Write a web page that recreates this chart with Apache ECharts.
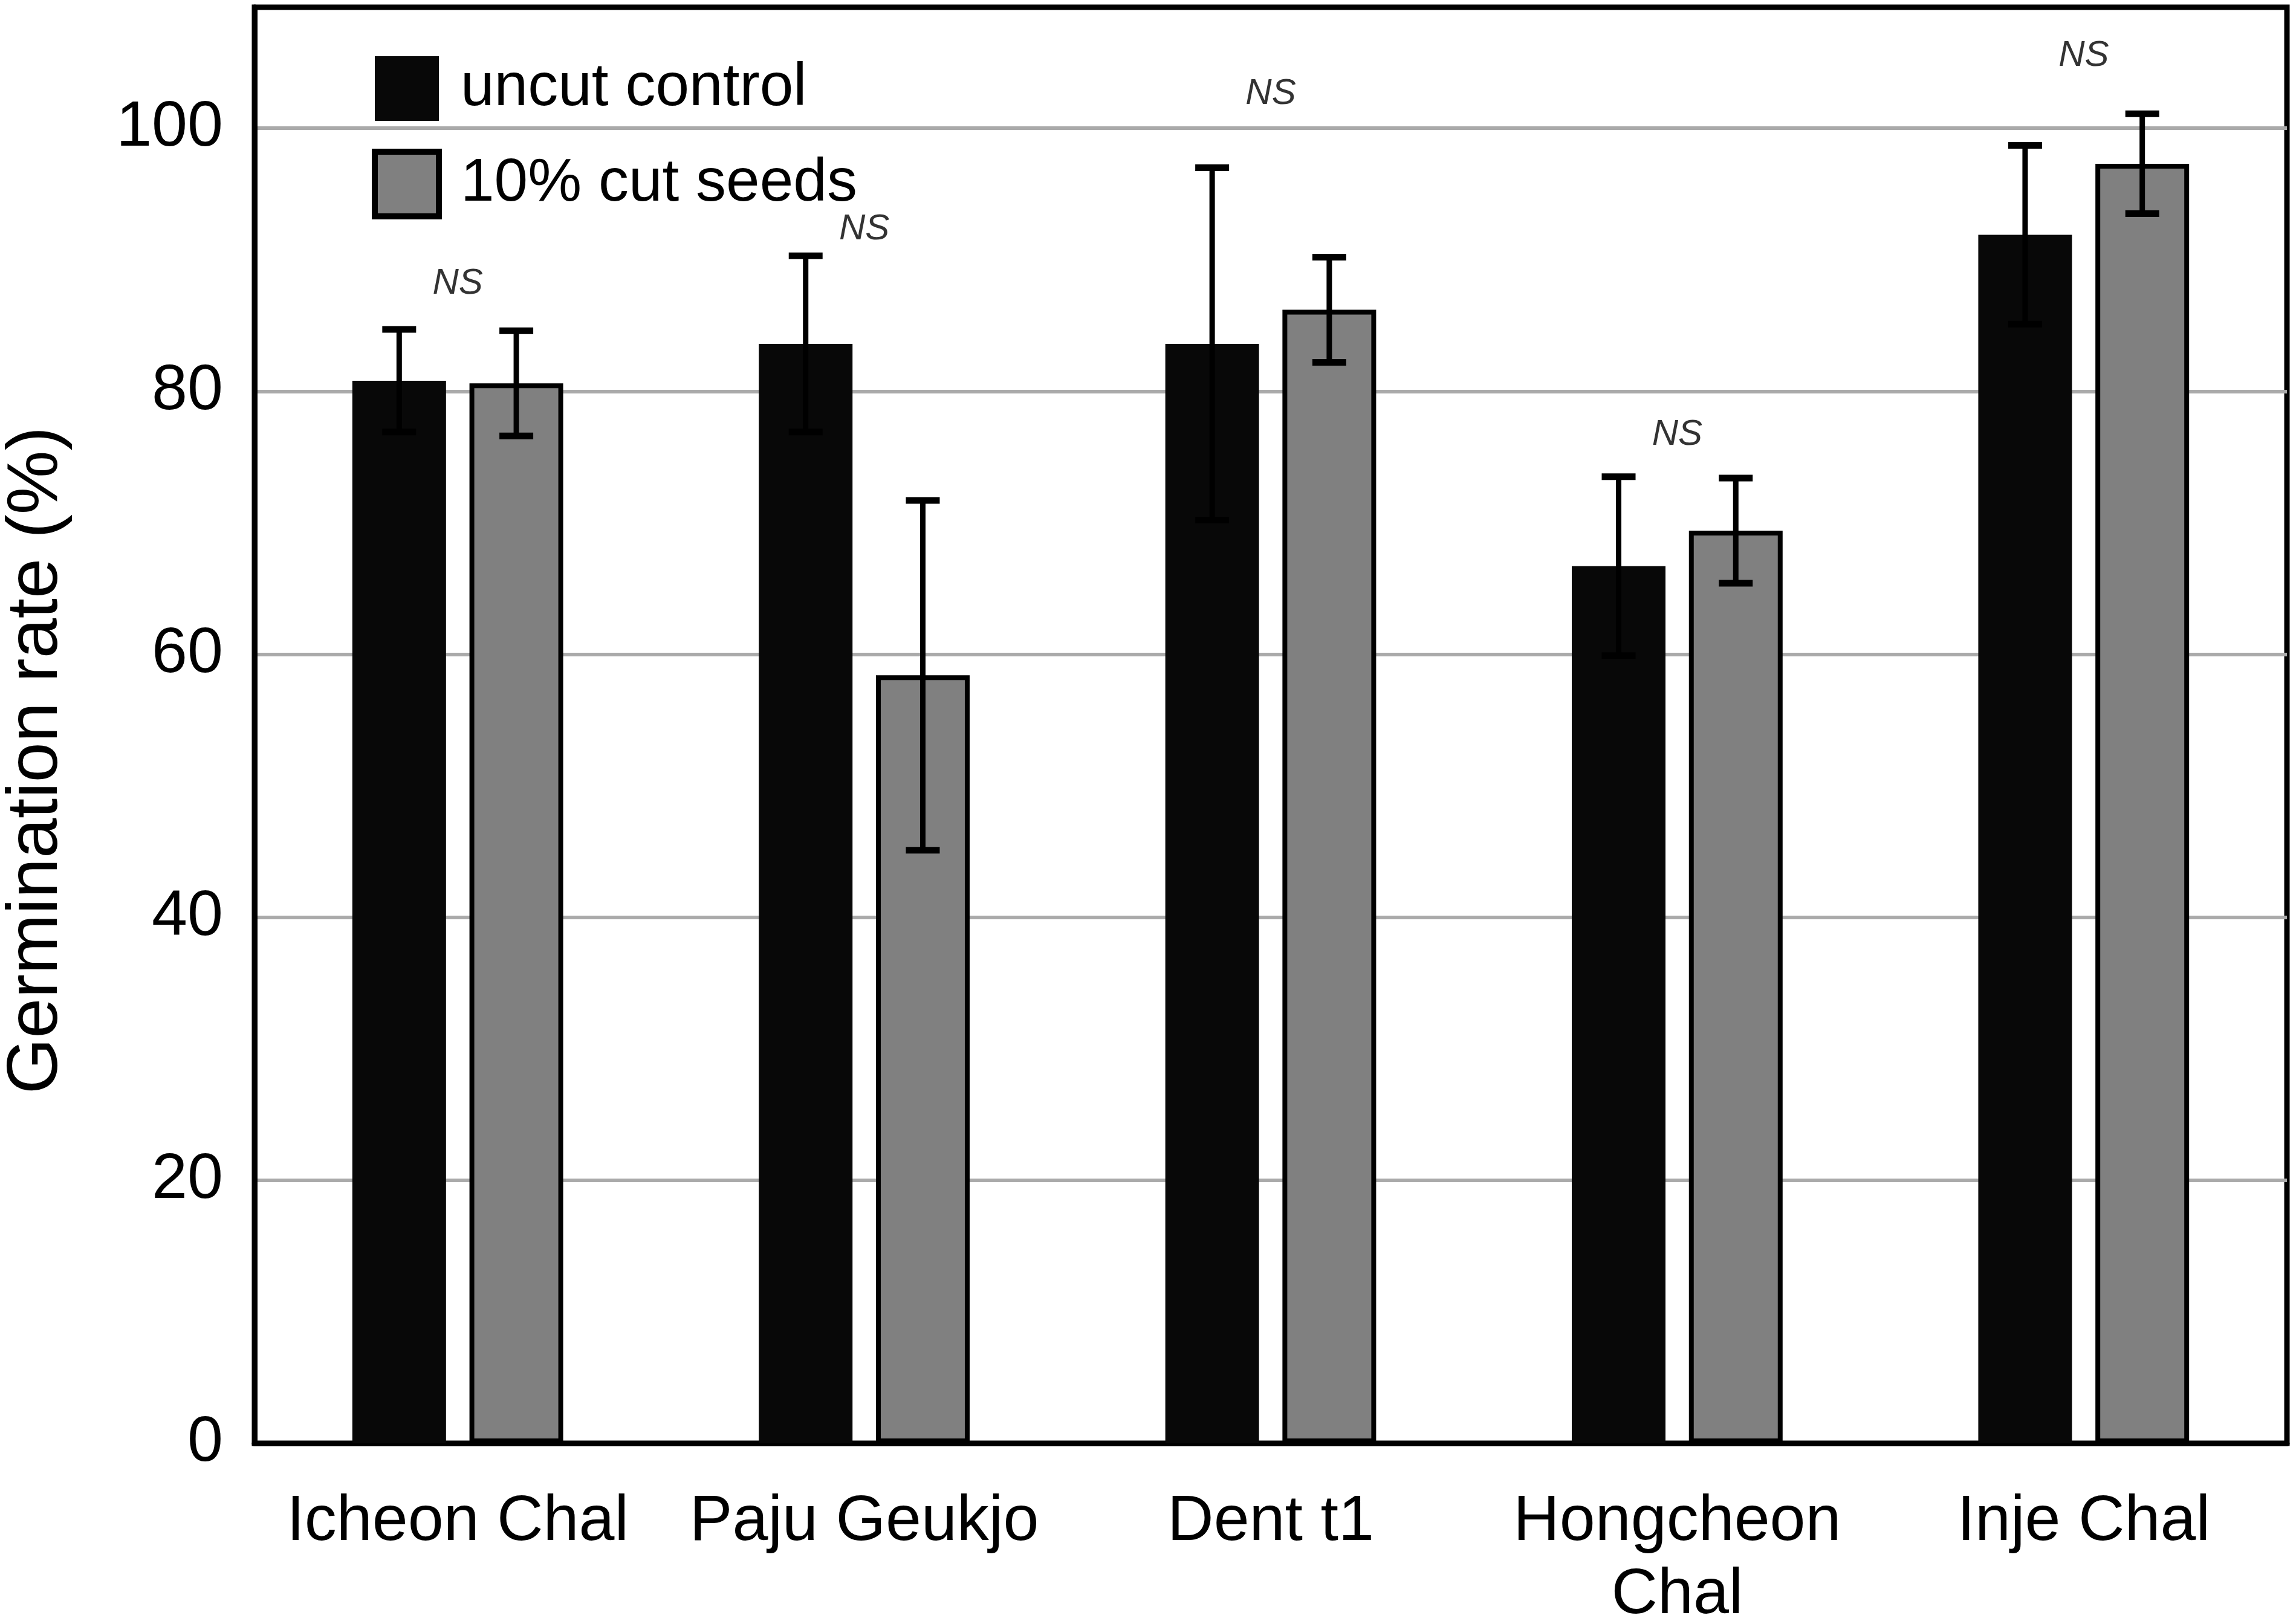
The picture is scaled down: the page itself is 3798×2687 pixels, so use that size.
<!DOCTYPE html>
<html>
<head>
<meta charset="utf-8">
<title>Germination rate</title>
<script src="https://cdn.jsdelivr.net/npm/echarts@6/dist/echarts.min.js"></script>
<style>
html, body { margin: 0; padding: 0; background: #fff; }
#main { width: 3798px; height: 2687px; }
</style>
</head>
<body>
<div id="main"></div>
<script>
// data
var categories = ['Icheon Chal', 'Paju Geukjo', 'Dent t1', 'Hongcheon\nChal', 'Inje Chal'];
var uncutMean = [80.8, 83.6, 83.6, 66.7, 91.9];
var uncutErr = [3.9, 6.7, 13.4, 6.8, 6.8];
var cutMean = [80.6, 58.4, 86.2, 69.4, 97.3];
var cutErr = [4.0, 13.3, 4.0, 4.0, 3.8];
var nsLabelY = [88.2, 92.3, 102.6, 76.7, 105.5];
var yTicks = [0, 20, 40, 60, 80, 100];

var FONT = 'Liberation Sans, Arial, sans-serif';
var barW = 155;
var capW = 56;

// error bars: stem + two caps, shifted to the bar of the given side (-1 / +1)
function errorSeries(name, means, errs, side) {
    return {
        type: 'custom',
        name: name,
        z: 5,
        silent: true,
        data: means.map(function (m, i) { return [i, m - errs[i], m + errs[i]]; }),
        encode: { x: 0, y: [1, 2] },
        renderItem: function (params, api) {
            var lo = api.coord([api.value(0), api.value(1)]);
            var hi = api.coord([api.value(0), api.value(2)]);
            var x = lo[0] + side * (barW * 1.25) / 2;
            var h = capW / 2;
            return {
                type: 'group',
                children: [
                    { type: 'line', shape: { x1: x, y1: lo[1], x2: x, y2: hi[1] }, style: { stroke: '#000', lineWidth: 9 } },
                    { type: 'line', shape: { x1: x - h, y1: hi[1], x2: x + h, y2: hi[1] }, style: { stroke: '#000', lineWidth: 11 } },
                    { type: 'line', shape: { x1: x - h, y1: lo[1], x2: x + h, y2: lo[1] }, style: { stroke: '#000', lineWidth: 11 } }
                ]
            };
        }
    };
}

var myChart = echarts.init(document.getElementById('main'));
var option = {
    backgroundColor: '#fff',
    animation: false,
    textStyle: { fontFamily: FONT },
    grid: {
        left: 421, right: 15, top: 12, bottom: 299,
        outerBoundsMode: 'none',
        containLabel: false,
        show: true, borderColor: '#000', borderWidth: 9,
        backgroundColor: 'transparent'
    },
    legend: {
        data: [
            { name: 'uncut control' },
            { name: '10% cut seeds', itemStyle: { color: '#808080', borderColor: '#000', borderWidth: 10 } }
        ],
        orient: 'vertical',
        left: 610,
        top: 88,
        icon: 'rect',
        itemWidth: 106,
        itemHeight: 107,
        itemGap: 46,
        textStyle: { fontSize: 100, color: '#000', fontFamily: FONT, padding: [0, 0, 0, 31] }
    },
    xAxis: {
        type: 'category',
        data: categories,
        axisTick: { show: false },
        axisLine: { show: true, lineStyle: { color: '#000', width: 9 } },
        axisLabel: { interval: 0, fontSize: 106, lineHeight: 121, color: '#000', margin: 70, fontFamily: FONT }
    },
    yAxis: {
        type: 'value',
        min: 0,
        max: 109.2,
        interval: 20,
        name: 'Germination rate (%)',
        nameLocation: 'middle',
        nameGap: 300,
        nameTextStyle: { fontSize: 119, color: '#000', fontFamily: FONT, padding: [0, 116, 0, 0] },
        axisLine: { show: true, lineStyle: { color: '#000', width: 9 } },
        axisTick: { show: false },
        axisLabel: {
            fontSize: 106, color: '#000', margin: 52, fontFamily: FONT,
            showMaxLabel: false,
            formatter: function (v) { return yTicks.indexOf(v) >= 0 ? String(v) : ''; }
        },
        splitLine: { showMaxLine: false, showMinLine: false, lineStyle: { color: '#aaaaaa', width: 6 } }
    },
    series: [
        {
            name: 'uncut control',
            type: 'bar',
            barWidth: barW,
            barGap: '25%',
            itemStyle: { color: '#080808' },
            data: uncutMean
        },
        {
            name: '10% cut seeds',
            type: 'bar',
            barWidth: barW,
            barGap: '25%',
            itemStyle: { color: '#808080', borderColor: '#000', borderWidth: 8 },
            data: cutMean
        },
        errorSeries('uncut error', uncutMean, uncutErr, -1),
        errorSeries('cut error', cutMean, cutErr, 1),
        {
            name: 'NS',
            type: 'scatter',
            symbolSize: 1,
            itemStyle: { color: 'rgba(0,0,0,0)' },
            silent: true,
            z: 6,
            data: nsLabelY.map(function (v, i) { return [i, v]; }),
            label: {
                show: true,
                position: 'inside',
                formatter: 'NS',
                fontStyle: 'italic',
                fontSize: 60,
                color: '#000',
                fontFamily: FONT
            }
        }
    ]
};
myChart.setOption(option);
</script>
</body>
</html>
